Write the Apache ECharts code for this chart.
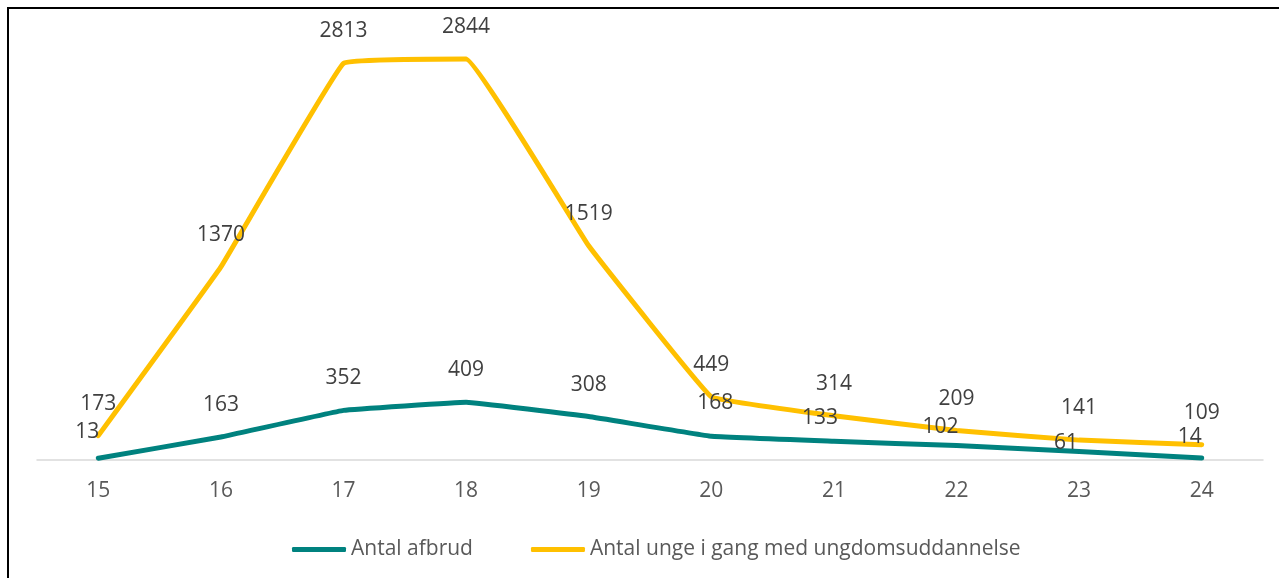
<!DOCTYPE html>
<html>
<head>
<meta charset="utf-8">
<title>Antal afbrud</title>
<script src="https://cdn.jsdelivr.net/npm/echarts@6/dist/echarts.min.js"></script>
<style>
  html, body { margin: 0; padding: 0; background: #fff; }
  #chart { width: 1279px; height: 578px; }
  /* frame from the original screenshot, only left and top edges visible */
  #frame {
    position: absolute; left: 7px; top: 7px; right: -10px; bottom: -10px;
    border-left: 2px solid #000; border-top: 2px solid #000;
    pointer-events: none;
  }
</style>
</head>
<body>
<div id="chart"></div>
<div id="frame"></div>
<script>
// alder
const ages = ['15', '16', '17', '18', '19', '20', '21', '22', '23', '24']
// Antal afbrud
const afbrud = [13, 163, 352, 409, 308, 168, 133, 102, 61, 14]
// Antal unge i gang med ungdomsuddannelse
const iGang = [173, 1370, 2813, 2844, 1519, 449, 314, 209, 141, 109]

const textColor = '#595959'
const labelColor = '#404040'
const fontFamily = 'Open Sans'
const fontSize = 21

// labels that sit off the default spot (index -> offset)
const afbrudLabelNudge = {
  0: [-11, 6],
  5: [4, -1],
  6: [-14, 9],
  7: [-16, 13],
  8: [-13, 24],
  9: [-12, 11]
}

const chart = echarts.init(document.getElementById('chart'))

const labelBase = {
  show: true,
  position: 'top',
  distance: 21,
  color: labelColor,
  fontFamily,
  fontSize
}

const options = {
  animation: false,
  grid: {
    left: 37,
    right: 16,
    top: 37,
    bottom: 118
  },
  legend: {
    left: 287,
    top: 534,
    icon: 'roundRect',
    itemWidth: 54,
    itemHeight: 5,
    itemGap: 58,
    textStyle: {
      color: textColor,
      fontFamily,
      fontSize
    },
    data: ['Antal afbrud', 'Antal unge i gang med ungdomsuddannelse']
  },
  xAxis: {
    type: 'category',
    data: ages,
    boundaryGap: true,
    axisLine: { lineStyle: { color: '#d9d9d9', width: 1.5 } },
    axisTick: { show: false },
    axisLabel: {
      color: textColor,
      fontFamily,
      fontSize,
      margin: 21
    }
  },
  yAxis: {
    type: 'value',
    min: 0,
    max: 3000,
    show: false,
    splitLine: { show: false }
  },
  series: [
    {
      name: 'Antal afbrud',
      type: 'line',
      smooth: 0.06,
      showSymbol: true,
      symbol: 'circle',
      symbolSize: 1,
      color: '#00827f',
      lineStyle: { width: 5, cap: 'round', join: 'round' },
      label: labelBase,
      data: afbrud.map((v, i) =>
        afbrudLabelNudge[i] ? { value: v, label: { offset: afbrudLabelNudge[i] } } : v
      ),
      z: 3
    },
    {
      name: 'Antal unge i gang med ungdomsuddannelse',
      type: 'line',
      smooth: 0.06,
      showSymbol: true,
      symbol: 'circle',
      symbolSize: 1,
      color: '#ffc000',
      lineStyle: { width: 5, cap: 'round', join: 'round' },
      label: labelBase,
      data: iGang,
      z: 2
    }
  ]
}

chart.setOption(options)
</script>
</body>
</html>
